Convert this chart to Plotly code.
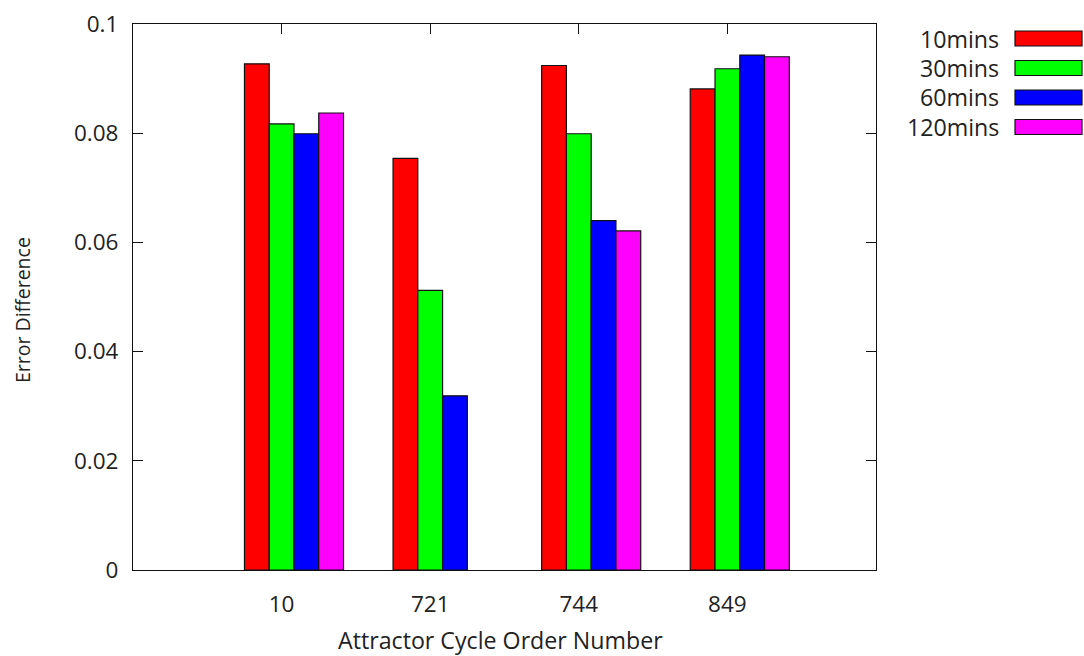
import plotly.graph_objects as go

categories = ["10", "721", "744", "849"]
series_names = ["10mins", "30mins", "60mins", "120mins"]
v10 = [0.0927, 0.0754, 0.0924, 0.0881]
v30 = [0.0817, 0.0512, 0.0799, 0.0918]
v60 = [0.0799, 0.0319, 0.0640, 0.0943]
v120 = [0.0837, None, 0.0621, 0.0940]
y_ticks = [0, 0.02, 0.04, 0.06, 0.08, 0.1]
y_ticktext = ["0", "0.02", "0.04", "0.06", "0.08", "0.1"]

colors = ["#ff0000", "#00ff00", "#0000ff", "#ff00ff"]
series = [v10, v30, v60, v120]

FONT = "Open Sans"
TXT = "#222222"
TSIZE = 22.5   # tick labels
HSIZE = 23.2   # horizontal titles / key
VSIZE = 19.5   # rotated y title

xpos = list(range(len(categories)))
bw = 1.0 / 6.0  # gnuplot bar width (gap 2, 4 series)

fig = go.Figure()
for name, vals, col in zip(series_names, series, colors):
    fig.add_trace(go.Bar(
        x=xpos, y=vals, name=name,
        marker=dict(color=col, line=dict(color="#111111", width=1.2)),
        showlegend=False,
    ))

L, R, T, B = 133, 876, 24, 570
W, H = 1084, 656

fig.update_layout(
    width=W, height=H,
    margin=dict(l=L, r=W - R, t=T, b=H - B, pad=0, autoexpand=False),
    paper_bgcolor="white", plot_bgcolor="white",
    barmode="group", bargap=1 - 4 * bw, bargroupgap=0,
    font=dict(family=FONT, size=TSIZE, color=TXT),
)

fig.update_xaxes(
    range=[-1 - bw / 2, 4 - bw / 2],
    tickvals=[x - bw / 2 for x in xpos], ticktext=categories,
    ticks="inside", ticklen=10, tickwidth=1, tickcolor="#111111",
    showline=True, linecolor="#111111", linewidth=1.2, mirror="ticks",
    showgrid=False, zeroline=False, layer="below traces",
    ticklabelstandoff=14, automargin=False,
    tickfont=dict(family=FONT, size=TSIZE, color=TXT),
)
fig.update_yaxes(
    range=[0, 0.1],
    tickvals=y_ticks, ticktext=y_ticktext,
    ticks="inside", ticklen=10, tickwidth=1, tickcolor="#111111",
    showline=True, linecolor="#111111", linewidth=1.2, mirror="ticks",
    showgrid=False, zeroline=False, layer="below traces",
    ticklabelstandoff=9, automargin=False,
    tickfont=dict(family=FONT, size=TSIZE, color=TXT),
)

pw, ph = R - L, B - T
def px2x(px):
    return (px - L) / pw
def py2y(py):
    return (B - py) / ph

# axis titles
fig.add_annotation(xref="paper", yref="paper", x=px2x(500), y=py2y(640),
                   text="Attractor Cycle Order Number", showarrow=False,
                   xanchor="center", yanchor="middle",
                   font=dict(family=FONT, size=HSIZE, color=TXT))
fig.add_annotation(xref="paper", yref="paper", x=px2x(22), y=py2y(310),
                   text="Error Difference", showarrow=False, textangle=-90,
                   xanchor="center", yanchor="middle",
                   font=dict(family=FONT, size=VSIZE, color=TXT))

# custom gnuplot-style key (text right-aligned, swatch on the right)
key_y = [38.5, 68, 97.5, 127]
for name, col, yc in zip(series_names, colors, key_y):
    fig.add_shape(type="rect", xref="paper", yref="paper",
                  x0=px2x(1015), x1=px2x(1082),
                  y0=py2y(yc + 7.5), y1=py2y(yc - 7.5),
                  fillcolor=col, line=dict(color="#111111", width=1.2))
    fig.add_annotation(xref="paper", yref="paper",
                       x=px2x(1001), y=py2y(yc), text=name,
                       showarrow=False, xanchor="right", yanchor="middle",
                       font=dict(family=FONT, size=HSIZE, color=TXT))

fig.write_html("out.html")
